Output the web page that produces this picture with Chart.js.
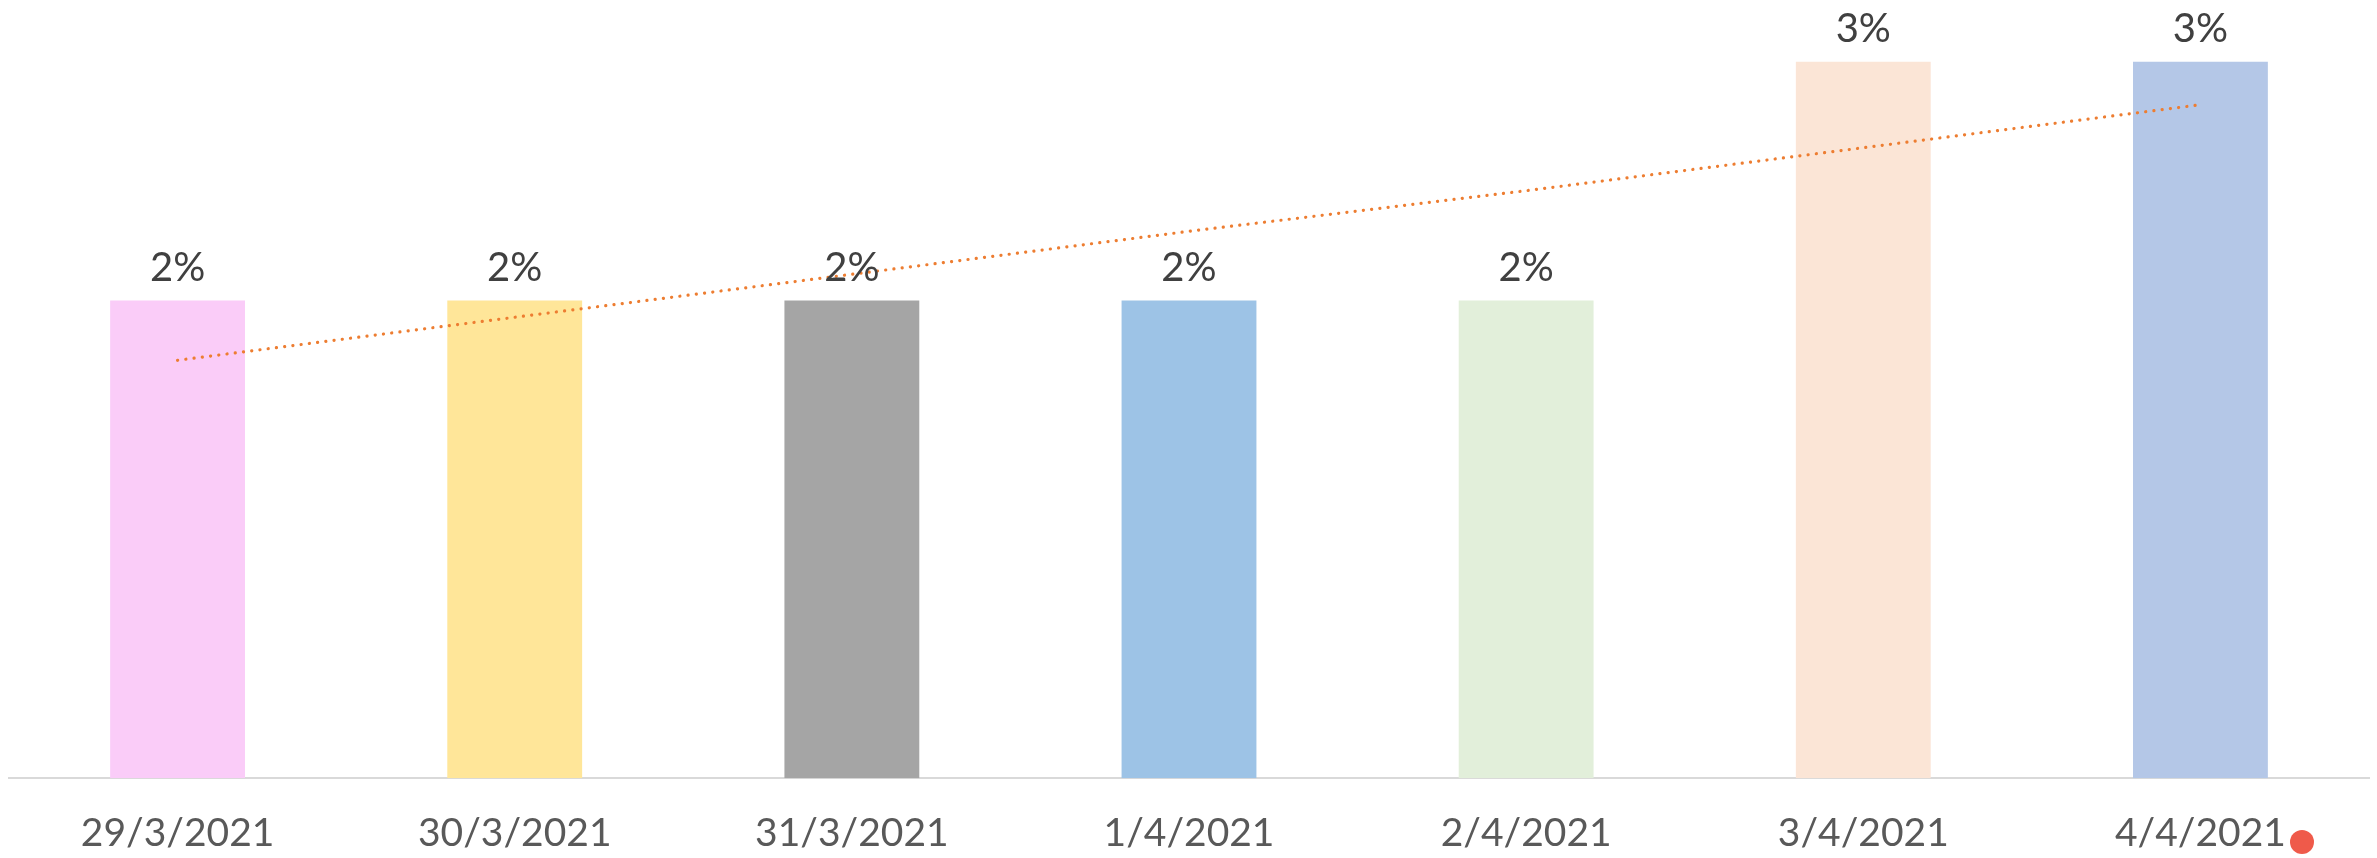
<!DOCTYPE html>
<html>
<head>
<meta charset="utf-8">
<script src="https://cdn.jsdelivr.net/npm/chart.js@4/dist/chart.umd.min.js"></script>
<style>
  html, body { margin: 0; padding: 0; background: #ffffff; }
  #wrap { width: 2377px; height: 858px; position: relative; }
</style>
</head>
<body>
<div id="wrap"><canvas id="c" width="2377" height="858"></canvas></div>
<script>
const categories = ['29/3/2021', '30/3/2021', '31/3/2021', '1/4/2021', '2/4/2021', '3/4/2021', '4/4/2021'];
const values = [2, 2, 2, 2, 2, 3, 3];
const valueLabels = ['2%', '2%', '2%', '2%', '2%', '3%', '3%'];
const trendValues = [1.75, 1.93, 2.11, 2.29, 2.46, 2.64, 2.82];
const barColors = ['#FACCF8', '#FFE699', '#A5A5A5', '#9DC3E6', '#E2EFDA', '#FBE5D6', '#B4C7E7'];

const FONT = 'Lato, "Open Sans", sans-serif';

const labelPlugin = {
  id: 'barLabels',
  afterDatasetsDraw(chart) {
    const ctx = chart.ctx;
    const meta = chart.getDatasetMeta(1);
    ctx.save();
    ctx.font = '40px ' + FONT;
    ctx.fillStyle = '#404040';
    ctx.textAlign = 'center';
    ctx.textBaseline = 'alphabetic';
    meta.data.forEach((bar, i) => {
      ctx.fillText(valueLabels[i], bar.x, bar.y - 20);
    });
    ctx.restore();
  }
};

const logoPlugin = {
  id: 'logoDot',
  afterDraw(chart) {
    const ctx = chart.ctx;
    const w = chart.width, h = chart.height;
    ctx.save();
    ctx.fillStyle = '#EF5A4A';
    ctx.beginPath();
    ctx.arc(w - 75, h - 16, 12, 0, Math.PI * 2);
    ctx.fill();
    ctx.restore();
  }
};

new Chart(document.getElementById('c'), {
  data: {
    labels: categories,
    datasets: [
      {
        type: 'line',
        data: trendValues,
        borderColor: '#ED7D31',
        borderWidth: 3.2,
        borderDash: [0.1, 8.2],
        borderCapStyle: 'round',
        pointRadius: 0,
        fill: false,
        tension: 0,
        order: 0
      },
      {
        type: 'bar',
        data: values,
        backgroundColor: barColors,
        borderWidth: 0,
        categoryPercentage: 1,
        barPercentage: 0.4,
        order: 1
      }
    ]
  },
  options: {
    responsive: false,
    animation: false,
    devicePixelRatio: 1,
    layout: { padding: { left: 9, right: 8, top: 14, bottom: -31 } },
    plugins: { legend: { display: false }, tooltip: { enabled: false } },
    scales: {
      x: {
        grid: { display: false, drawTicks: false },
        border: { display: true, color: '#D9D9D9', width: 2 },
        ticks: { color: '#595959', font: { family: FONT, size: 39 }, padding: 32, maxRotation: 0, autoSkip: false }
      },
      y: {
        display: false,
        min: 0,
        max: 3.2
      }
    }
  },
  plugins: [labelPlugin, logoPlugin]
});
</script>
</body>
</html>
